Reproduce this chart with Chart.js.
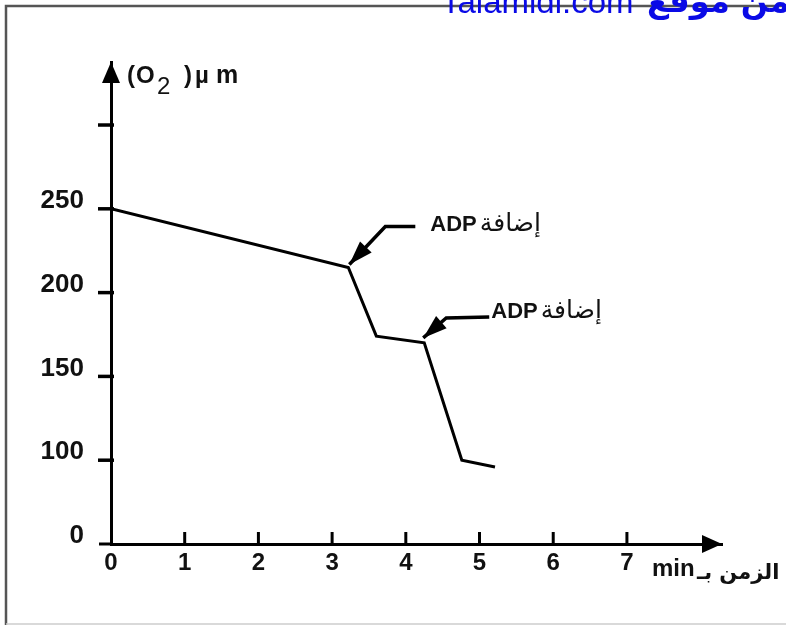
<!DOCTYPE html>
<html>
<head>
<meta charset="utf-8">
<script src="https://cdn.jsdelivr.net/npm/chart.js@4/dist/chart.umd.min.js"></script>
<style>
  html, body { margin: 0; padding: 0; background: #fff; }
  canvas { display: block; }
</style>
</head>
<body>
<canvas id="c" width="786" height="625"></canvas>
<script>
// ---- data ----
const timeMin = [0, 3.22, 3.6, 4.25, 4.76, 5.21];
const o2Values = [250, 215, 174, 170, 100, 96];
const xTickValues = [0, 1, 2, 3, 4, 5, 6, 7];
const yTickValues = [50, 100, 150, 200, 250, 300];
const yTickLabels = ["0", "100", "150", "200", "250", ""];
const annotatedIndex = [1, 3];
const annotationLatin = ["ADP", "ADP"];
const annotationArabic = ["إضافة", "إضافة"];
const yTitleParts = ["(", "O", "2", ")", "µ", "m"];
const xTitleLatin = "min";
const xTitleArabic = "الزمن بـ";
const watermarkLatin = "Talamidi.com";
const watermarkArabic = "تحميل من موقع";

const FONT = "'Liberation Sans', Arial, sans-serif";
const AFONT = "'DejaVu Sans', 'Noto Sans', sans-serif";

const decorPlugin = {
  id: 'decor',
  beforeDraw(chart) {
    const ctx = chart.ctx;
    ctx.save();
    ctx.fillStyle = '#fff';
    ctx.fillRect(0, 0, chart.width, chart.height);
    // frame
    ctx.strokeStyle = '#555';
    ctx.lineWidth = 2.5;
    ctx.beginPath();
    ctx.moveTo(6, 625); ctx.lineTo(6, 6); ctx.lineTo(786, 6);
    ctx.stroke();
    ctx.strokeStyle = '#ccc';
    ctx.lineWidth = 1.5;
    ctx.beginPath();
    ctx.moveTo(6, 624); ctx.lineTo(786, 624);
    ctx.stroke();
    // watermark
    ctx.fillStyle = '#0a0ae6';
    ctx.textBaseline = 'alphabetic';
    ctx.textAlign = 'left';
    ctx.font = '33px ' + FONT;
    ctx.fillText(watermarkLatin, 441, 13);
    ctx.font = 'bold 32px ' + AFONT;
    ctx.fillText(watermarkArabic, 647, 12);
    ctx.restore();
  },
  afterDraw(chart) {
    const ctx = chart.ctx;
    const xs = chart.scales.x, ys = chart.scales.y;
    const ca = chart.chartArea;
    const x0 = xs.getPixelForValue(0);
    const y0 = ys.getPixelForValue(yTickValues[0]);
    ctx.save();
    ctx.strokeStyle = '#000';
    ctx.fillStyle = '#000';
    ctx.lineCap = 'butt';
    // x axis extension to the left
    ctx.lineWidth = 3;
    ctx.beginPath();
    ctx.moveTo(99, y0); ctx.lineTo(x0, y0);
    ctx.stroke();
    // y ticks
    ctx.lineWidth = 3.5;
    yTickValues.slice(1).forEach(v => {
      const py = ys.getPixelForValue(v);
      ctx.beginPath();
      ctx.moveTo(98, py); ctx.lineTo(x0 + 3, py);
      ctx.stroke();
    });
    // x ticks
    ctx.lineWidth = 3;
    xTickValues.slice(1).forEach(v => {
      const px = xs.getPixelForValue(v);
      ctx.beginPath();
      ctx.moveTo(px, y0); ctx.lineTo(px, y0 - 12);
      ctx.stroke();
    });
    // arrowheads
    ctx.beginPath();
    ctx.moveTo(x0, ca.top);
    ctx.lineTo(x0 - 9, ca.top + 21);
    ctx.lineTo(x0 + 9, ca.top + 21);
    ctx.closePath();
    ctx.fill();
    ctx.beginPath();
    ctx.moveTo(ca.right, y0);
    ctx.lineTo(ca.right - 20, y0 - 9);
    ctx.lineTo(ca.right - 20, y0 + 9);
    ctx.closePath();
    ctx.fill();

    // y title
    ctx.textBaseline = 'alphabetic';
    ctx.textAlign = 'left';
    ctx.fillStyle = '#111';
    ctx.font = 'bold 24px ' + FONT;
    ctx.fillText(yTitleParts[0], 127, 83);
    ctx.fillText(yTitleParts[1], 136, 83);
    ctx.font = '24px ' + FONT;
    ctx.fillText(yTitleParts[2], 157, 94);
    ctx.font = 'bold 24px ' + FONT;
    ctx.fillText(yTitleParts[3], 184, 83);
    ctx.fillText(yTitleParts[4], 195, 83);
    ctx.font = 'bold 25px ' + FONT;
    ctx.fillText(yTitleParts[5], 216, 83);

    // x title
    ctx.font = 'bold 24px ' + FONT;
    ctx.fillText(xTitleLatin, 652, 576);
    ctx.font = 'bold 21px ' + AFONT;
    ctx.fillText(xTitleArabic, 697, 579);

    // annotations
    const offs = [
      { tip: [1, -3], elbow: [37, -41], end: [67, -41], text: [82, -36] },
      { tip: [-1, -5], elbow: [22, -25], end: [65, -26], text: [67, -25] }
    ];
    annotatedIndex.forEach((idx, k) => {
      const px = xs.getPixelForValue(timeMin[idx]);
      const py = ys.getPixelForValue(o2Values[idx]);
      const o = offs[k];
      const tx = px + o.tip[0], ty = py + o.tip[1];
      const ex = px + o.elbow[0], ey = py + o.elbow[1];
      ctx.strokeStyle = '#000';
      ctx.lineWidth = 3.5;
      ctx.beginPath();
      ctx.moveTo(px + o.end[0], py + o.end[1]);
      ctx.lineTo(ex, ey);
      ctx.lineTo(tx, ty);
      ctx.stroke();
      // arrowhead
      const ang = Math.atan2(ty - ey, tx - ex);
      const L = 24, W = 8;
      const bx = tx - L * Math.cos(ang), by = ty - L * Math.sin(ang);
      ctx.fillStyle = '#000';
      ctx.beginPath();
      ctx.moveTo(tx, ty);
      ctx.lineTo(bx + W * Math.sin(ang), by - W * Math.cos(ang));
      ctx.lineTo(bx - W * Math.sin(ang), by + W * Math.cos(ang));
      ctx.closePath();
      ctx.fill();
      // label
      ctx.fillStyle = '#111';
      ctx.font = 'bold 22px ' + FONT;
      const lx = px + o.text[0], ly = py + o.text[1];
      ctx.fillText(annotationLatin[k], lx, ly);
      const w = ctx.measureText(annotationLatin[k]).width;
      ctx.font = '25px ' + AFONT;
      ctx.fillText(annotationArabic[k], lx + w + 3, ly);
    });
    ctx.restore();
  }
};

new Chart(document.getElementById('c'), {
  type: 'scatter',
  data: {
    datasets: [{
      data: timeMin.map((t, i) => ({ x: t, y: o2Values[i] })),
      showLine: true,
      borderColor: '#000',
      borderWidth: 3,
      pointRadius: 0,
      tension: 0,
      fill: false
    }]
  },
  options: {
    responsive: false,
    animation: false,
    events: [],
    layout: { padding: { top: 62, right: 64, left: 0, bottom: 0 } },
    plugins: { legend: { display: false }, tooltip: { enabled: false } },
    scales: {
      x: {
        type: 'linear',
        min: 0,
        max: 8.29,
        afterBuildTicks: s => { s.ticks = xTickValues.map(v => ({ value: v })); },
        afterFit: s => { s.height = 81; },
        grid: { display: false, drawTicks: false },
        border: { display: true, color: '#000', width: 3 },
        ticks: {
          autoSkip: false, maxRotation: 0, padding: 5,
          color: '#111',
          font: { family: FONT, size: 24, weight: 'bold' },
          callback: v => String(v)
        }
      },
      y: {
        type: 'linear',
        min: 50,
        max: 337.6,
        afterBuildTicks: s => { s.ticks = yTickValues.map(v => ({ value: v })); },
        afterFit: s => { s.width = 111; },
        grid: { display: false, drawTicks: false },
        border: { display: true, color: '#000', width: 3 },
        ticks: {
          autoSkip: false, padding: 27, labelOffset: -8,
          color: '#111',
          font: { family: FONT, size: 26, weight: 'bold' },
          callback: (v, i) => yTickLabels[i]
        }
      }
    }
  },
  plugins: [decorPlugin]
});
</script>
</body>
</html>
